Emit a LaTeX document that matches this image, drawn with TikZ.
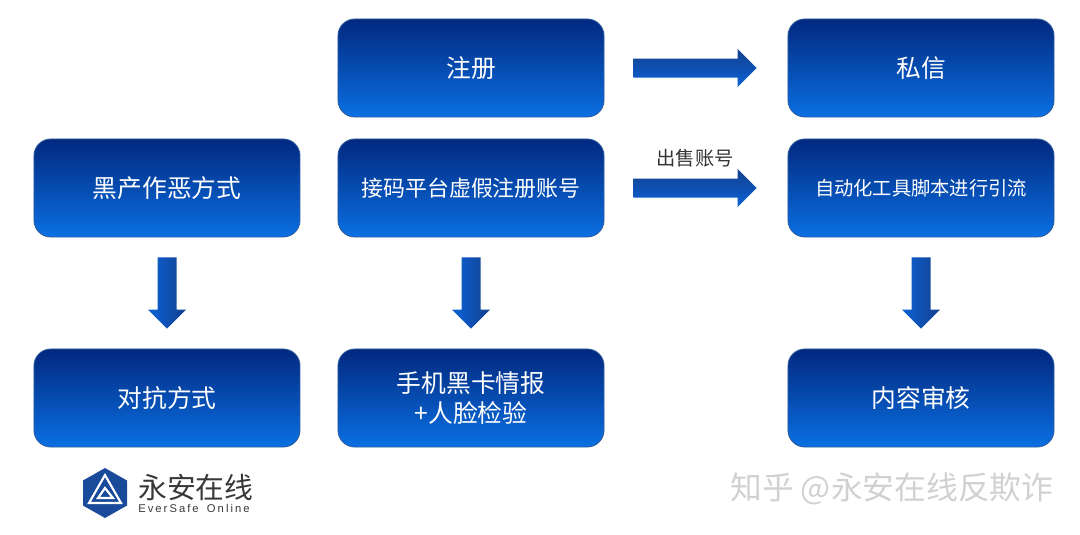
\documentclass[tikz,border=0pt]{standalone}
\usepackage{fontspec}
\usetikzlibrary{calc}
\setmainfont{Noto Sans CJK SC}
\newfontfamily\logofont[LetterSpace=18,WordSpace=1.6]{Liberation Sans}
\definecolor{boxtop}{HTML}{02287F}
\definecolor{boxbottom}{HTML}{0A70E2}
\definecolor{boxline}{HTML}{2F5C9E}
\definecolor{arrowdark}{HTML}{143F8E}
\definecolor{arrowlight}{HTML}{0A62D6}
\definecolor{logoblue}{HTML}{1A4A9A}
\tikzset{
	stepbox/.style={rounded corners=0.42cm,top color=boxtop,bottom color=boxbottom,draw=boxline,line width=0.6pt,minimum width=6.65cm,minimum height=2.45cm,text=white,align=center,font=\fontsize{17.6}{21}\selectfont},
	smallbox/.style={stepbox,font=\fontsize{15.6}{21}\selectfont},
	tinybox/.style={stepbox,font=\fontsize{13.7}{21}\selectfont},
	blockh/.style={top color=arrowdark,bottom color=arrowlight},
	blockv/.style={left color=arrowlight,right color=arrowdark}
}
\newcommand{\blockright}[2]{
	\path[blockh] ($(#1.east)+(29,-9.5)$)--($(#2.west)+(-50,-9.5)$)--($(#2.west)+(-50,-19)$)--($(#2.west)+(-31,0)$)--($(#2.west)+(-50,19)$)--($(#2.west)+(-50,9.5)$)--($(#1.east)+(29,9.5)$)--cycle;
}
\newcommand{\blockdown}[2]{
	\path[blockv] ($(#1.south)+(-9.5,20)$)--($(#2.north)+(-9.5,-39)$)--($(#2.north)+(-19,-39)$)--($(#2.north)+(0,-20)$)--($(#2.north)+(19,-39)$)--($(#2.north)+(9.5,-39)$)--($(#1.south)+(9.5,20)$)--cycle;
}
\begin{document}
\begin{tikzpicture}[x=0.025cm,y=-0.025cm]
		\useasboundingbox (0,0) rectangle (1080,534);
		\node[stepbox] (reg) at (471,68) {注册};
		\node[stepbox] (dm) at (921,68) {私信};
		\node[stepbox] (mode) at (167,188) {黑产作恶方式};
		\node[smallbox] (fake) at (471,188) {接码平台虚假注册账号};
		\node[tinybox] (tool) at (921,188) {自动化工具脚本进行引流};
		\node[stepbox] (counter) at (167,398) {对抗方式};
		\node[stepbox] (intel) at (471,398) {手机黑卡情报\\+人脸检验};
		\node[stepbox] (audit) at (921,398) {内容审核};
		\blockright{reg}{dm}
		\blockright{fake}{tool}
		\blockdown{mode}{counter}
		\blockdown{fake}{intel}
		\blockdown{tool}{audit}
		\node[text=black!80,font=\fontsize{13.7}{16}\selectfont] (sell) at (695,158) {出售账号};
		\fill[logoblue] (105,468)--(127,480.5)--(127,505.5)--(105,518)--(83,505.5)--(83,480.5)--cycle;
		\draw[white,line width=1.5pt,line join=miter] (105,475)--(89,503)--(121,503)--cycle;
		\draw[white,line width=1.5pt] (105,488)--(98,498)--(113,498)--cycle;
		\node[text=black!78,font=\fontsize{20.5}{24}\selectfont,anchor=west,inner sep=0pt] (logoname) at (138,487) {永安在线};
		\node[text=black!78,font=\logofont\fontsize{8}{10}\selectfont,anchor=west,inner sep=0pt] (logosub) at (138,508) {EverSafe Online};
		\node[text=black!18,font=\fontsize{22.6}{26}\selectfont,anchor=west,inner sep=0pt] (mark) at (730,489) {知乎 @永安在线反欺诈};
\end{tikzpicture}
\end{document}
